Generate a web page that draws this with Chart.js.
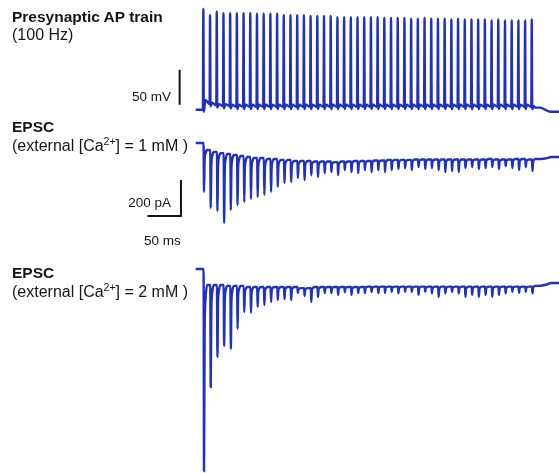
<!DOCTYPE html>
<html>
<head>
<meta charset="utf-8">
<script src="https://cdn.jsdelivr.net/npm/chart.js@4.4.1/dist/chart.umd.min.js"></script>
<style>
  body { margin: 0; background: #fff; }
  #wrap { position: relative; width: 559px; height: 473px; overflow: hidden; }
  canvas { position: absolute; left: 0; top: 0; }
  .lbl { position: absolute; font-family: "Liberation Sans", Arial, sans-serif; color: #151515; white-space: nowrap; line-height: 17px; }
  .ttl { font-size: 15.5px; font-weight: bold; }
  .sub { font-size: 16px; }
  .bar { font-size: 13.5px; line-height: 15px; }
  sup { font-size: 10.5px; line-height: 0; vertical-align: 6px; }
</style>
</head>
<body>
<div id="wrap">
  <canvas id="traces" width="559" height="473"></canvas>

  <div class="lbl ttl" style="left:12px;top:8px">Presynaptic AP train</div>
  <div class="lbl sub" style="left:12px;top:26px">(100 Hz)</div>

  <div class="lbl ttl" style="left:12px;top:118px">EPSC</div>
  <div class="lbl sub" style="left:12px;top:137px">(external [Ca<sup>2+</sup>] = 1 mM )</div>

  <div class="lbl ttl" style="left:12px;top:264px">EPSC</div>
  <div class="lbl sub" style="left:12px;top:283px">(external [Ca<sup>2+</sup>] = 2 mM )</div>

  <div class="lbl bar" style="right:388px;top:89px">50 mV</div>
  <div class="lbl bar" style="right:388px;top:195px">200 pA</div>
  <div class="lbl bar" style="left:144px;top:233px">50 ms</div>
</div>

<script>
// stimulus train, 100 Hz (ms)
const pulseTimes = [10, 20, 30, 40, 50, 60, 70, 80, 90, 100,
  110, 120, 130, 140, 150, 160, 170, 180, 190, 200,
  210, 220, 230, 240, 250, 260, 270, 280, 290, 300,
  310, 320, 330, 340, 350, 360, 370, 380, 390, 400,
  410, 420, 430, 440, 450, 460, 470, 480, 490, 500];

// presynaptic action potentials (mV)
const apPeak = [73, 64, 69, 67, 67, 67, 67, 67, 66, 66,
  66, 66, 64, 64, 64, 64, 63, 63, 63, 63,
  61, 61, 61, 61, 61, 61, 61, 60, 60, 60,
  60, 59, 59, 60, 59, 59, 59, 58, 59, 58,
  58, 58, 58, 57, 58, 57, 57, 57, 57, 58];
const apFoot = [-71, -63, -65, -66, -66, -67, -67, -67, -67, -67,
  -67, -67, -67, -67, -67, -67, -67, -67, -67, -67,
  -67, -67, -67, -67, -67, -67, -67, -67, -67, -67,
  -67, -67, -67, -67, -67, -67, -67, -67, -67, -67,
  -67, -67, -67, -67, -67, -67, -67, -67, -67, -67];
const apDAP = [-57, -61, -63, -63, -64, -64, -64, -64, -64, -64,
  -64, -64, -64, -64, -64, -64, -64, -64, -64, -64,
  -64, -64, -64, -64, -64, -64, -64, -64, -64, -64,
  -64, -64, -64, -64, -64, -64, -64, -64, -64, -64,
  -64, -64, -64, -64, -64, -64, -64, -64, -64, -66];
const apTailTime = [506, 513, 520, 528, 541];
const apTailV = [-68, -68, -71, -74, -74];

// EPSC, external Ca 1 mM (pA)
const epsc1Peak = [-272, -361, -378, -444, -372, -344, -328, -311, -300, -289,
  -272, -244, -222, -217, -194, -206, -178, -189, -167, -161,
  -178, -150, -161, -167, -150, -161, -150, -161, -150, -144,
  -139, -150, -133, -144, -139, -150, -161, -156, -161, -139,
  -133, -144, -139, -133, -144, -128, -139, -150, -133, -156];
const epsc1Rest = [0, -39, -50, -56, -61, -67, -72, -78, -83, -83,
  -89, -89, -94, -94, -100, -100, -100, -103, -103, -103,
  -106, -103, -103, -100, -100, -100, -97, -97, -94, -94,
  -94, -94, -92, -92, -92, -92, -92, -92, -92, -92,
  -92, -92, -92, -89, -92, -92, -92, -89, -89, -92];
const epsc1TailTime = [508, 520, 530, 541];
const epsc1TailV = [-89, -86, -78, -78];

// EPSC, external Ca 2 mM (pA)
const epsc2Peak = [-1122, -656, -489, -428, -444, -333, -239, -244, -211, -200,
  -183, -172, -167, -172, -133, -150, -183, -156, -133, -133,
  -144, -128, -144, -133, -133, -128, -133, -132, -126, -135,
  -126, -126, -144, -126, -135, -154, -135, -126, -135, -154,
  -144, -154, -144, -154, -144, -135, -126, -132, -126, -135];
const epsc2Rest = [0, -89, -89, -89, -94, -94, -94, -100, -100, -100,
  -100, -100, -100, -100, -100, -106, -106, -100, -100, -100,
  -100, -100, -100, -100, -100, -98, -98, -98, -98, -98,
  -98, -98, -98, -98, -98, -98, -98, -98, -98, -98,
  -98, -98, -98, -98, -98, -98, -98, -98, -98, -98];
const epsc2TailTime = [508, 520, 530, 541];
const epsc2TailV = [-94, -89, -78, -78];

// scale bars (data units of the trace they belong to)
const mvBar = { t: -25, from: -64, len: 50 };
const paBar = { t: -23, from: -405, len: 200, ms: 50 };

const traceColor = '#1f31bd';

// spike waveform: foot, peak, undershoot, afterdepolarisation
function apPoints() {
  const pts = [{ x: -1, y: apFoot[0] }];
  pulseTimes.forEach((t, i) => {
    pts.push({ x: t - 0.3, y: apFoot[i] });
    pts.push({ x: t + 0.4, y: apPeak[i] });
    pts.push({ x: t + 1.1, y: apFoot[i] - 3 });
    pts.push({ x: t + 3.5, y: apDAP[i] });
  });
  apTailTime.forEach((t, i) => pts.push({ x: t, y: apTailV[i] }));
  return pts;
}

// each EPSC: onset at the current level, fast peak, then decay to the next level
const decayShape = [[2.3, 0.25], [3.6, 0.08], [6.0, 0]];

function epscPoints(peak, rest, tailTime, tailV) {
  const pts = [{ x: -1, y: 0 }];
  pulseTimes.forEach((t, i) => {
    const next = i + 1 < rest.length ? rest[i + 1] : tailV[0];
    pts.push({ x: t + 0.7, y: rest[i] });
    pts.push({ x: t + 1.4, y: peak[i] });
    decayShape.forEach(([dt, f]) => {
      pts.push({ x: t + dt, y: next + f * (peak[i] - next) });
    });
  });
  tailTime.forEach((t, i) => pts.push({ x: t, y: tailV[i] }));
  return pts;
}

const scaleBars = {
  id: 'scaleBars',
  afterDatasetsDraw(chart) {
    const { ctx, scales } = chart;
    const x = scales.x;
    ctx.save();
    ctx.strokeStyle = '#151515';
    ctx.lineWidth = 2;
    ctx.lineJoin = 'miter';

    // 50 mV
    const xm = x.getPixelForValue(mvBar.t);
    ctx.beginPath();
    ctx.moveTo(xm, scales.yAP.getPixelForValue(mvBar.from + mvBar.len));
    ctx.lineTo(xm, scales.yAP.getPixelForValue(mvBar.from));
    ctx.stroke();

    // 200 pA / 50 ms corner
    const xp = x.getPixelForValue(paBar.t);
    const yBottom = scales.yE1.getPixelForValue(paBar.from);
    ctx.beginPath();
    ctx.moveTo(xp, scales.yE1.getPixelForValue(paBar.from + paBar.len));
    ctx.lineTo(xp, yBottom);
    ctx.lineTo(x.getPixelForValue(paBar.t - paBar.ms), yBottom);
    ctx.stroke();
    ctx.restore();
  }
};

const lineStyle = {
  borderColor: traceColor,
  borderWidth: 2.4,
  pointRadius: 0,
  cubicInterpolationMode: 'monotone',
  fill: false,
};

const ctx = document.getElementById('traces').getContext('2d');
new Chart(ctx, {
  type: 'line',
  data: {
    datasets: [
      { ...lineStyle, label: 'Presynaptic AP', data: apPoints(), yAxisID: 'yAP' },
      { ...lineStyle, label: 'EPSC 1 mM', data: epscPoints(epsc1Peak, epsc1Rest, epsc1TailTime, epsc1TailV), yAxisID: 'yE1' },
      { ...lineStyle, label: 'EPSC 2 mM', data: epscPoints(epsc2Peak, epsc2Rest, epsc2TailTime, epsc2TailV), yAxisID: 'yE2' },
    ],
  },
  options: {
    responsive: false,
    animation: false,
    devicePixelRatio: 1,
    layout: { padding: 0 },
    plugins: {
      legend: { display: false },
      tooltip: { enabled: false },
    },
    scales: {
      x: { type: 'linear', min: -293, max: 541, display: false },
      yAP: { type: 'linear', min: -590, max: 85.7, display: false },
      yE1: { type: 'linear', min: -1833.3, max: 794.4, display: false },
      yE2: { type: 'linear', min: -1133.3, max: 1494.4, display: false },
    },
  },
  plugins: [scaleBars],
});
</script>
</body>
</html>
